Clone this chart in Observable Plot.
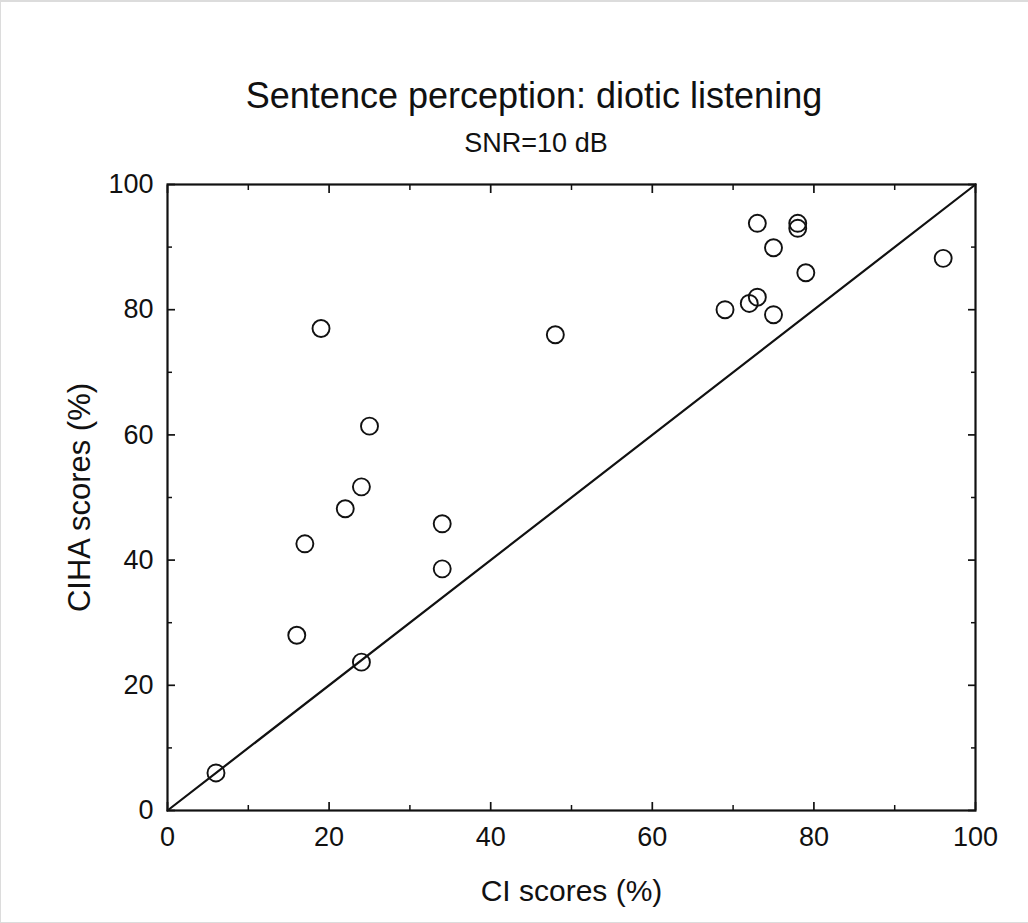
<!DOCTYPE html>
<html>
<head>
<meta charset="utf-8">
<script src="https://cdn.jsdelivr.net/npm/d3@7"></script>
<script src="https://cdn.jsdelivr.net/npm/@observablehq/plot@0.6"></script>
<style>
  html, body { margin: 0; padding: 0; background: #fff; }
  #page {
    position: relative; width: 1028px; height: 923px; overflow: hidden;
    box-sizing: border-box; border-top: 2px solid #dcdcdc; border-left: 1px solid #dcdcdc;
    border-bottom: 1px solid #dcdcdc; background: #fff;
    font-family: "Liberation Sans", Arial, sans-serif; color: #111;
  }
  #chart { position: absolute; left: -1px; top: -2px; }
  .title { position: absolute; white-space: nowrap; transform: translateX(-50%); line-height: normal; }
  #t1 { left: 533px; top: 73px; font-size: 36px; }
  #t2 { left: 535px; top: 126px; font-size: 27px; }
</style>
</head>
<body>
<div id="page">
  <div id="chart"></div>
  <div class="title" id="t1">Sentence perception: diotic listening</div>
  <div class="title" id="t2">SNR=10 dB</div>
</div>
<script>
// CI score vs. CIHA score for each listener (%)
const ciScores   = [6, 16, 17, 19, 22, 24, 25, 24, 34, 34, 48, 69, 72, 73, 75, 73, 78, 78, 75, 79, 96];
const cihaScores = [6, 28, 42.6, 77, 48.2, 51.7, 61.4, 23.7, 45.8, 38.6, 76, 80, 81, 82, 79.2, 93.8, 93.8, 93, 89.9, 85.9, 88.2];
const majorTicks = [0, 20, 40, 60, 80, 100];
const minorTicks = [10, 30, 50, 70, 90];
const identity = [0, 100];

const points = ciScores.map((x, i) => ({x, y: cihaScores[i]}));

const chart = Plot.plot({
  width: 1028,
  height: 923,
  marginLeft: 167,
  marginRight: 53,
  marginTop: 184,
  marginBottom: 113,
  style: {fontFamily: "Liberation Sans, Arial, sans-serif", fontSize: "27px", color: "#111", background: "transparent"},
  x: {domain: [0, 100]},
  y: {domain: [0, 100]},
  marks: [
    // tick labels and axis titles
    Plot.axisX(majorTicks, {anchor: "bottom", tickSize: 0, tickPadding: 16, fontSize: 27,
      label: null}),
    Plot.axisY(majorTicks, {anchor: "left", tickSize: 0, tickPadding: 14, fontSize: 27,
      label: null}),
    Plot.axisX({anchor: "bottom", ticks: [], label: "CI scores (%)", labelAnchor: "center",
      labelOffset: 90, labelArrow: "none", fontSize: 30}),
    Plot.axisY({anchor: "left", ticks: [], label: "CIHA scores (%)", labelAnchor: "center",
      labelOffset: 100, labelArrow: "none", fontSize: 31}),
    // inward ticks on all four sides
    Plot.axisX(majorTicks, {anchor: "bottom", tickSize: -8, text: null, label: null, strokeWidth: 1.7}),
    Plot.axisX(minorTicks, {anchor: "bottom", tickSize: -5, text: null, label: null, strokeWidth: 1.5}),
    Plot.axisX(majorTicks, {anchor: "top", tickSize: -8, text: null, label: null, strokeWidth: 1.7}),
    Plot.axisX(minorTicks, {anchor: "top", tickSize: -5, text: null, label: null, strokeWidth: 1.5}),
    Plot.axisY(majorTicks, {anchor: "left", tickSize: -8, text: null, label: null, strokeWidth: 1.7}),
    Plot.axisY(minorTicks, {anchor: "left", tickSize: -5, text: null, label: null, strokeWidth: 1.5}),
    Plot.axisY(majorTicks, {anchor: "right", tickSize: -8, text: null, label: null, strokeWidth: 1.7}),
    Plot.axisY(minorTicks, {anchor: "right", tickSize: -5, text: null, label: null, strokeWidth: 1.5}),
    Plot.frame({stroke: "#111", strokeWidth: 2.2}),
    // line of equal performance
    Plot.line(identity.map(v => ({x: v, y: v})), {x: "x", y: "y", stroke: "#111", strokeWidth: 2.2}),
    Plot.dot(points, {x: "x", y: "y", r: 8.5, stroke: "#111", strokeWidth: 1.9, fill: "none"})
  ]
});

document.getElementById("chart").appendChild(chart);
</script>
</body>
</html>
